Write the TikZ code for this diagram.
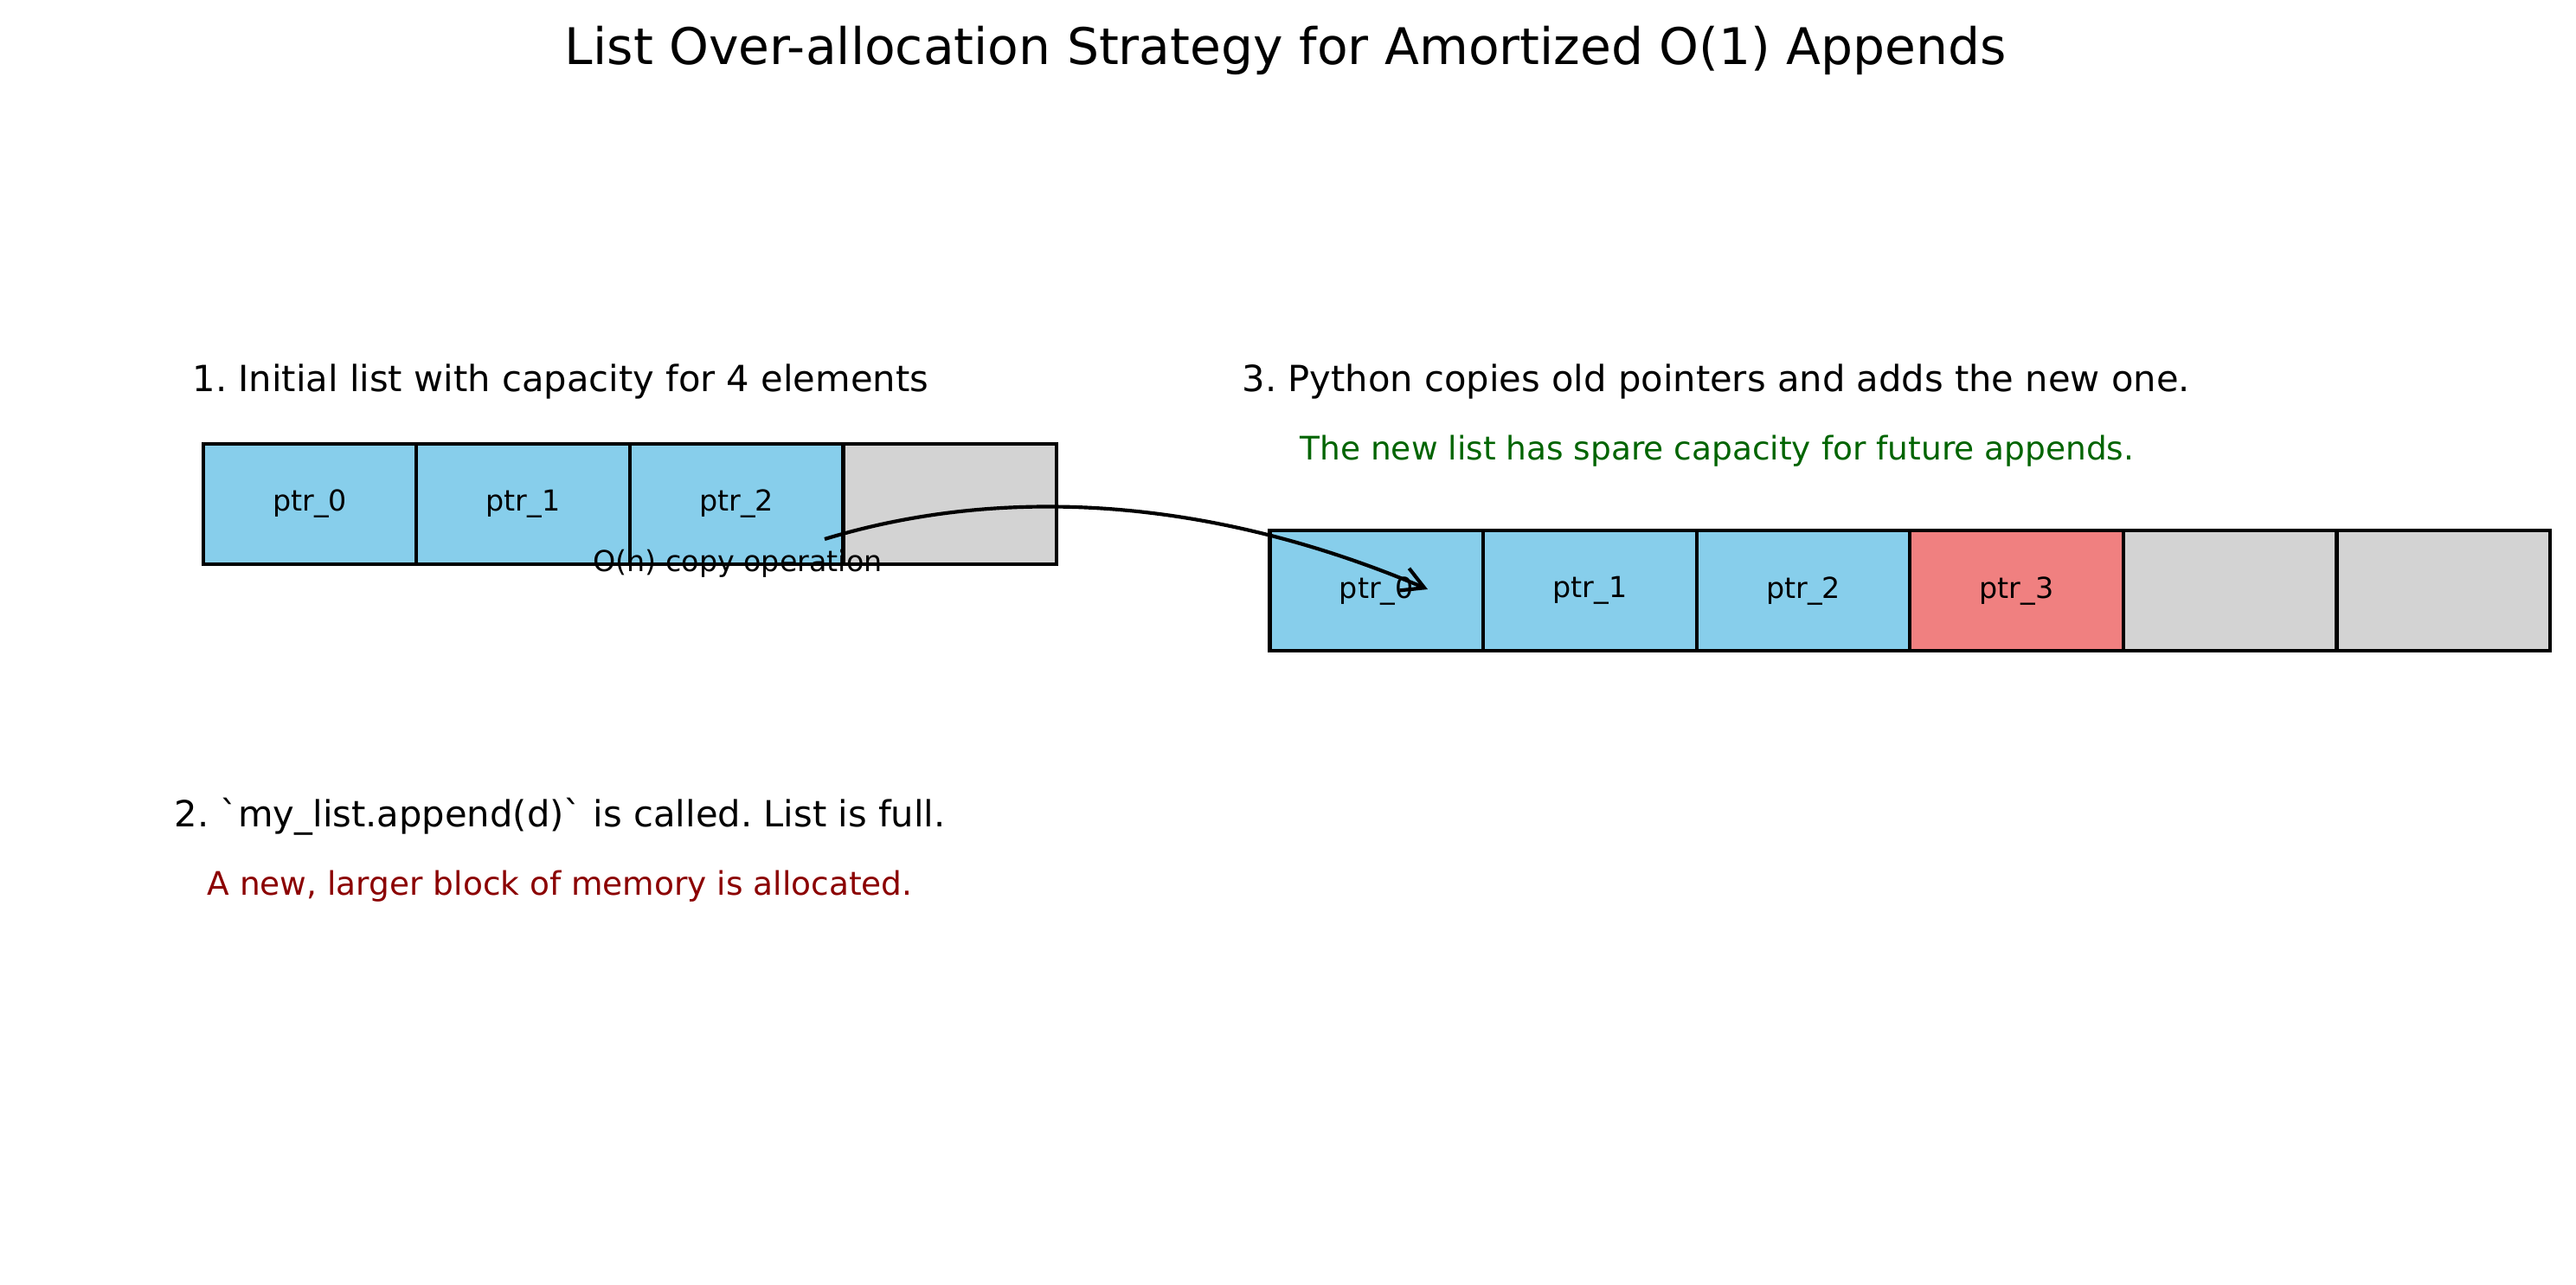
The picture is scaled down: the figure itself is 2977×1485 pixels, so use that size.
\documentclass[tikz,border=0pt]{standalone}
\usepackage{fontspec}
\setmainfont{DejaVu Sans}[Ligatures=TeXOff]
\usetikzlibrary{arrows.meta}
\definecolor{cskyblue}{HTML}{87CEEB}
\definecolor{ccoral}{HTML}{F08080}
\definecolor{cgray}{HTML}{D3D3D3}
\definecolor{cdred}{HTML}{8B0000}
\definecolor{cdgreen}{HTML}{006400}
\newcommand{\bqt}{\symbol{96}}
\begin{document}
\frenchspacing
\begin{tikzpicture}[x=0.36pt,y=-0.36pt,
  cell/.style={draw=black,line width=1.5pt,inner sep=0pt,minimum width=88.78pt,minimum height=50pt,font=\fontsize{12}{14}\selectfont},
  used/.style={cell,fill=cskyblue},
  newcell/.style={cell,fill=ccoral},
  spare/.style={cell,fill=cgray},
  steptext/.style={anchor=base west,inner sep=0pt,font=\fontsize{15}{18}\selectfont},
  subtext/.style={anchor=base west,inner sep=0pt,font=\fontsize{13.5}{16}\selectfont},
  copyarrow/.style={line width=1.5pt,-{Straight Barb[length=9pt,width=10pt,line width=1.5pt]}}
]
\useasboundingbox (0,0) rectangle (2977,1485);
\node[anchor=base,inner sep=0pt,font=\fontsize{21}{25}\selectfont] (title) at (1486,75) {List Over-allocation Strategy for Amortized O(1) Appends};

% step 1
\node[steptext] (s1) at (222,453) {1. Initial list with capacity for 4 elements};
\node[used]  (a0) at (358.0,582.5) {ptr\_0};
\node[used]  (a1) at (604.6,582.5) {ptr\_1};
\node[used]  (a2) at (851.2,582.5) {ptr\_2};
\node[spare] (a3) at (1097.8,582.5) {};

% step 2
\node[steptext] (s2) at (201,955) {2. \bqt my\_list.append(d)\bqt{} is called. List is full.};
\node[subtext,text=cdred] (s2b) at (239,1035) {A new, larger block of memory is allocated.};

% step 3
\node[steptext] (s3) at (1435,453) {3. Python copies old pointers and adds the new one.};
\node[subtext,text=cdgreen] (s3b) at (1502,532) {The new list has spare capacity for future appends.};
\node[used]    (b0) at (1590.8,682.6) {ptr\_0};
\node[used]    (b1) at (1837.4,682.6) {ptr\_1};
\node[used]    (b2) at (2084.0,682.6) {ptr\_2};
\node[newcell] (b3) at (2330.6,682.6) {ptr\_3};
\node[spare]   (b4) at (2577.2,682.6) {};
\node[spare]   (b5) at (2823.8,682.6) {};

% copy annotation
\node[inner sep=0pt,font=\fontsize{12}{14}\selectfont] (copy) at (852.5,651) {O(n) copy operation};
\coordinate (cstart) at (953,623);
\coordinate (cend) at (1650,681);
\draw[copyarrow] (cstart) .. controls (1160,560) and (1400,575) .. (cend);
\end{tikzpicture}
\end{document}
